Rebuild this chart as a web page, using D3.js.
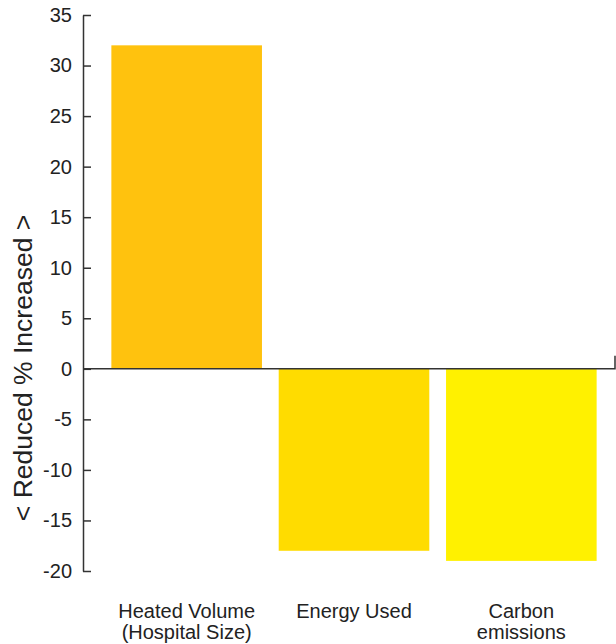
<!DOCTYPE html>
<html>
<head>
<meta charset="utf-8">
<script src="https://cdn.jsdelivr.net/npm/d3@7"></script>
<style>
  html, body { margin: 0; padding: 0; background: #fff; }
  svg { display: block; font-family: "Liberation Sans", Arial, Helvetica, sans-serif; }
</style>
</head>
<body>
<svg id="chart" width="616" height="644"></svg>
<script>
const categories = ["Heated Volume\n(Hospital Size)", "Energy Used", "Carbon\nemissions"];
const values = [32, -18, -19];
const barColors = ["#FFC20E", "#FFDC00", "#FFF100"];
const yTicks = [35, 30, 25, 20, 15, 10, 5, 0, -5, -10, -15, -20];
const yTitle = "< Reduced % Increased >";

const svg = d3.select("#chart");
const axisX = 83;

const y = d3.scaleLinear().domain([-20, 35]).range([571, 15]);
const x = d3.scaleBand().domain(categories).range([103, 605]).paddingInner(0.1).paddingOuter(0.05);

// bars
svg.selectAll("rect.bar").data(values).join("rect")
  .attr("class", "bar")
  .attr("x", (d, i) => x(categories[i]))
  .attr("width", x.bandwidth())
  .attr("y", d => y(Math.max(0, d)))
  .attr("height", d => Math.abs(y(d) - y(0)))
  .attr("fill", (d, i) => barColors[i]);

// y axis
const yAxis = d3.axisLeft(y).tickValues(yTicks).tickSizeInner(-8).tickSizeOuter(0).tickPadding(11)
  .tickFormat(d => d3.format("d")(d).replace("−", "-"));
const gy = svg.append("g").attr("transform", `translate(${axisX},0)`).call(yAxis);
gy.select(".domain").attr("stroke", "#333").attr("stroke-width", 1.5);
gy.selectAll(".tick line").attr("stroke", "#333").attr("stroke-width", 1.5);
gy.selectAll(".tick text").attr("fill", "#222").style("font-size", "20px")
  .style("font-family", '"Liberation Sans", Arial, sans-serif');

// zero baseline with end tick
svg.append("path")
  .attr("d", `M${axisX},${y(0)}H615V${y(0) - 13}`)
  .attr("fill", "none").attr("stroke", "#333").attr("stroke-width", 1.5);

// category labels
categories.forEach((c, i) => {
  const lines = c.split("\n");
  const t = svg.append("text")
    .attr("x", x(c) + x.bandwidth() / 2)
    .attr("y", 618)
    .attr("text-anchor", "middle")
    .attr("fill", "#222")
    .style("font-size", "20px");
  lines.forEach((l, j) => {
    t.append("tspan").attr("x", x(c) + x.bandwidth() / 2).attr("dy", j === 0 ? 0 : 21).text(l);
  });
});

// y title
svg.append("text")
  .attr("transform", `translate(32,368) rotate(-90)`)
  .attr("text-anchor", "middle")
  .attr("fill", "#222")
  .style("font-size", "26.5px")
  .text(yTitle);
</script>
</body>
</html>
